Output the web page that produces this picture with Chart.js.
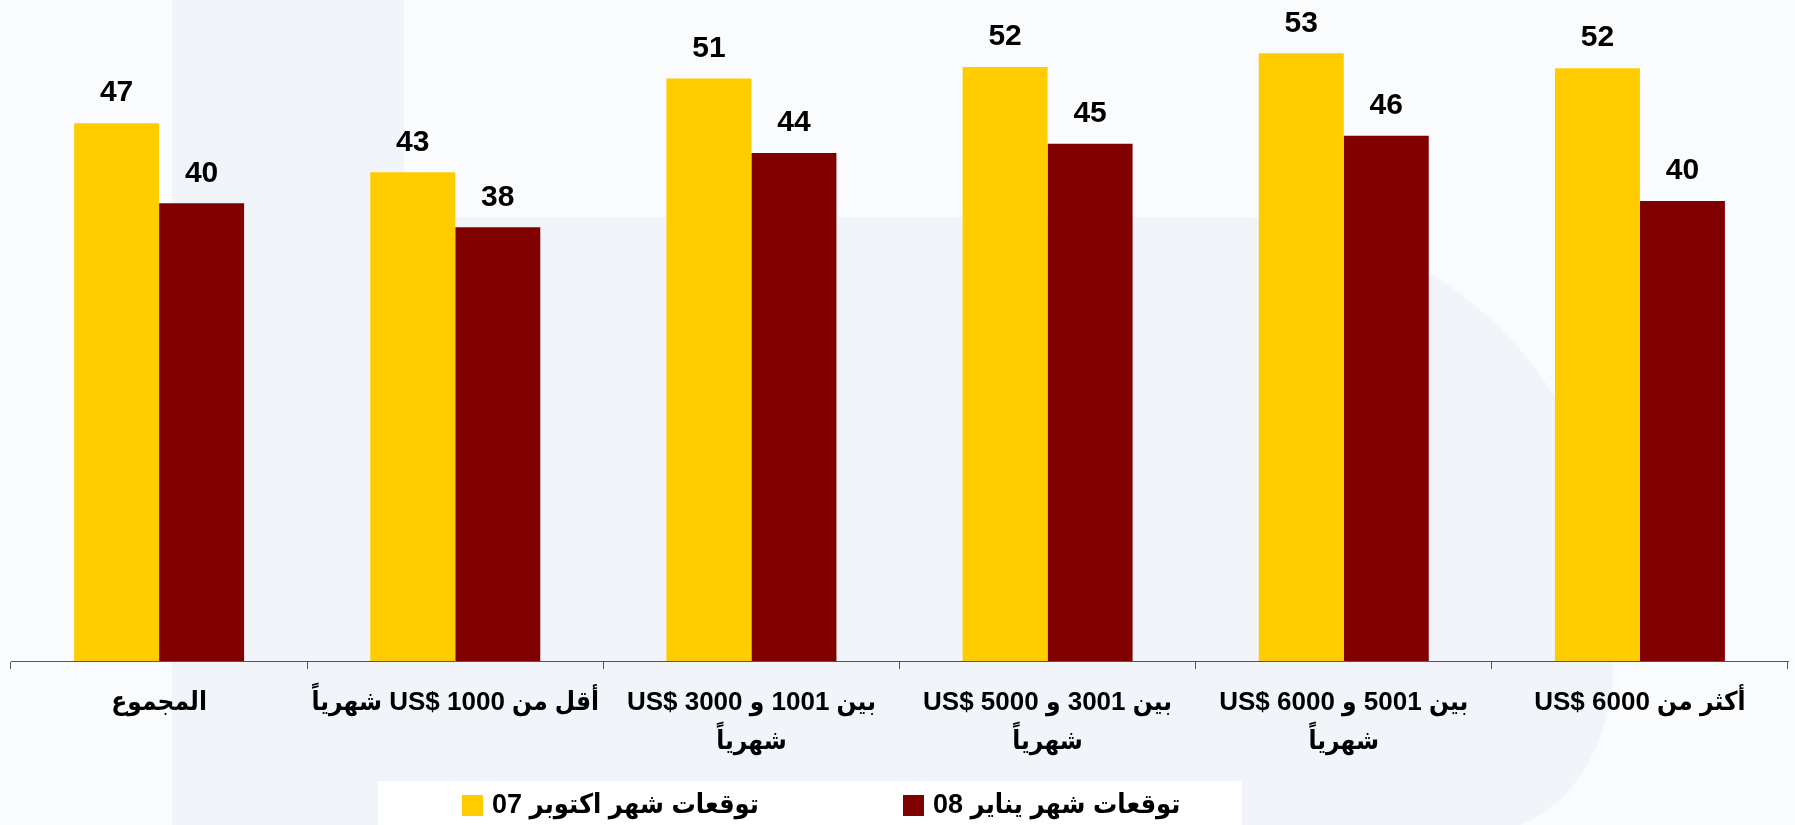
<!DOCTYPE html>
<html>
<head>
<meta charset="utf-8">
<script src="https://cdn.jsdelivr.net/npm/chart.js@4"></script>
<style>
  html, body { margin: 0; padding: 0; background: #f9fbfd; }
  canvas { display: block; }
</style>
</head>
<body>
<canvas id="chart" width="1795" height="825" dir="rtl"></canvas>
<script>
// categories (Arabic, multi-line where the original wraps)
const categories = [
  "المجموع",
  "أقل من 1000 $US شهرياً",
  ["بين 1001 و 3000 $US", "شهرياً"],
  ["بين 3001 و 5000 $US", "شهرياً"],
  ["بين 5001 و 6000 $US", "شهرياً"],
  "أكثر من 6000 $US"
];
const seriesNames = ["توقعات شهر اكتوبر 07", "توقعات شهر يناير 08"];
const octValues = [47, 42.7, 50.9, 51.9, 53.1, 51.8];
const janValues = [40, 37.9, 44.4, 45.2, 45.9, 40.2];

const yellow = "#ffcc00";
const maroon = "#800000";
// latin digits from Liberation, arabic falls back to the condensed DejaVu
const FONT = "'Liberation Sans', 'DejaVu Sans Condensed', 'DejaVu Sans', sans-serif";

// faint logo in the background
const backdrop = {
  id: "backdrop",
  beforeDraw(chart) {
    const ctx = chart.ctx;
    ctx.save();
    ctx.fillStyle = "#f9fbfd";
    ctx.fillRect(0, 0, chart.width, chart.height);
    ctx.fillStyle = "#f1f4f9";
    ctx.fillRect(172, 0, 232, chart.height);
    ctx.beginPath();
    ctx.moveTo(404, 217);
    ctx.lineTo(1230, 217);
    ctx.arc(1230, 600, 383, -Math.PI / 2, 0);
    ctx.lineTo(1613, 680);
    ctx.quadraticCurveTo(1600, 790, 1520, 825);
    ctx.lineTo(404, 825);
    ctx.closePath();
    ctx.fill();
    ctx.restore();
  }
};

// numbers above bars
const valueLabels = {
  id: "valueLabels",
  afterDatasetsDraw(chart) {
    const ctx = chart.ctx;
    ctx.save();
    ctx.font = "bold 30px " + FONT;
    ctx.fillStyle = "#000";
    ctx.textAlign = "center";
    ctx.textBaseline = "middle";
    chart.data.datasets.forEach((ds, i) => {
      chart.getDatasetMeta(i).data.forEach((bar, j) => {
        ctx.fillText(String(Math.round(ds.data[j])), bar.x, bar.y - 30);
      });
    });
    ctx.restore();
  }
};

// legend in a white box under the labels
const boxLegend = {
  id: "boxLegend",
  afterDraw(chart) {
    const ctx = chart.ctx;
    ctx.save();
    ctx.fillStyle = "#ffffff";
    ctx.fillRect(378, 781, 864, 44);
    const starts = [462, 903];
    ctx.font = "bold 27px " + FONT;
    ctx.textBaseline = "middle";
    ctx.textAlign = "left";
    ctx.direction = "rtl";
    chart.data.datasets.forEach((ds, i) => {
      ctx.fillStyle = ds.backgroundColor;
      ctx.fillRect(starts[i], 795, 21, 21);
      ctx.fillStyle = "#000";
      ctx.fillText(ds.label, starts[i] + 30, 806);
    });
    ctx.restore();
  }
};

new Chart(document.getElementById("chart"), {
  type: "bar",
  data: {
    labels: categories,
    datasets: [
      { label: seriesNames[0], data: octValues, backgroundColor: yellow },
      { label: seriesNames[1], data: janValues, backgroundColor: maroon }
    ]
  },
  options: {
    responsive: false,
    animation: false,
    layout: { padding: { left: 11, right: 7, top: 3, bottom: 50 } },
    datasets: { bar: { categoryPercentage: 0.574, barPercentage: 1 } },
    plugins: {
      legend: { display: false },
      tooltip: { enabled: false }
    },
    scales: {
      x: {
        grid: {
          offset: true,
          drawOnChartArea: false,
          drawTicks: true,
          tickLength: 8,
          color: "#555"
        },
        border: { display: true, color: "#555", width: 1 },
        ticks: {
          color: "#000",
          padding: 14,
          maxRotation: 0,
          autoSkip: false,
          font: { family: FONT, size: 26, weight: "bold", lineHeight: 1.5 }
        }
      },
      y: {
        display: false,
        min: 0,
        max: 57.5
      }
    }
  },
  plugins: [backdrop, valueLabels, boxLegend]
});
</script>
</body>
</html>
